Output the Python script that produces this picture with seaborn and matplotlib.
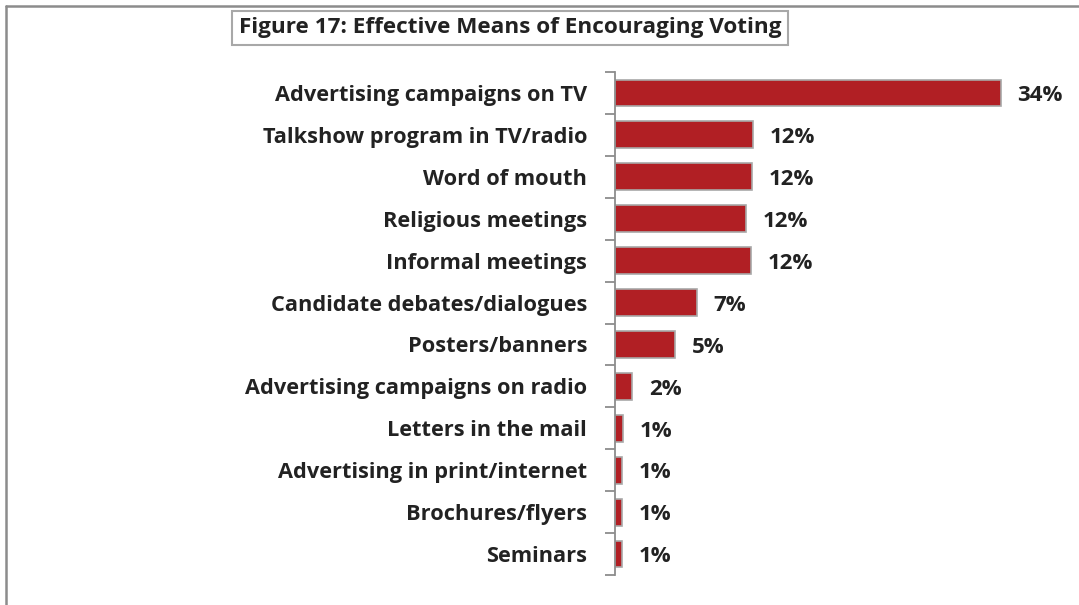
import matplotlib
matplotlib.use("Agg")
import matplotlib.pyplot as plt
from matplotlib.lines import Line2D
import numpy as np
import pandas as pd
import seaborn as sns

categories = [
    "Advertising campaigns on TV",
    "Talkshow program in TV/radio",
    "Word of mouth",
    "Religious meetings",
    "Informal meetings",
    "Candidate debates/dialogues",
    "Posters/banners",
    "Advertising campaigns on radio",
    "Letters in the mail",
    "Advertising in print/internet",
    "Brochures/flyers",
    "Seminars",
]
shares = [34.0, 12.2, 12.1, 11.5, 12.0, 7.2, 5.3, 1.5, 0.7, 0.6, 0.6, 0.6]
title = "Figure 17: Effective Means of Encouraging Voting"

df = pd.DataFrame({"means": categories, "share": shares})

sns.set_theme(style="white")
plt.rcParams["font.family"] = ["Open Sans", "DejaVu Sans"]

W, H = 1079, 605
fig = plt.figure(figsize=(W / 100, H / 100), dpi=100)
ax = fig.add_axes([615 / W, 1 - 575 / H, 425 / W, (575 - 72) / H])

sns.barplot(data=df, x="share", y="means", orient="h", color="#B11F24",
            saturation=1, width=0.64, edgecolor="#A8A8A8", linewidth=1.2, ax=ax)

ax.set_xlim(0, 425 / 11.35)
ax.set_ylim(len(categories) - 0.5, -0.5)
ax.set_xlabel("")
ax.set_ylabel("")
ax.set_xticks([])

for s in ["top", "right", "bottom"]:
    ax.spines[s].set_visible(False)
ax.spines["left"].set_color("#8C8C8C")
ax.spines["left"].set_linewidth(1.3)

ax.set_yticks(np.arange(len(categories)))
ax.set_yticklabels(categories, fontsize=15.7, fontweight="bold", color="#222222")
ax.tick_params(axis="y", which="major", length=0, pad=20)
ax.set_yticks(np.arange(len(categories) + 1) - 0.5, minor=True)
ax.tick_params(axis="y", which="minor", length=7, width=1.3, color="#8C8C8C", left=True)

for i, v in enumerate(shares):
    ax.annotate(f"{v:.0f}%", xy=(v, i), xytext=(12, -2), textcoords="offset points",
                ha="left", va="center", fontsize=16, fontweight="bold", color="#222222")

fig.text(510 / W, 1 - 28 / H, title, ha="center", va="center", fontsize=16.2,
         fontweight="bold", color="#222222",
         bbox=dict(boxstyle="square,pad=0.3", facecolor="white", edgecolor="#A8A8A8", linewidth=1.5))

fig.add_artist(Line2D([6 / W, 1], [1 - 6 / H, 1 - 6 / H], transform=fig.transFigure,
                      color="#8C8C8C", linewidth=1.8))
fig.add_artist(Line2D([6 / W, 6 / W], [0, 1 - 6 / H], transform=fig.transFigure,
                      color="#8C8C8C", linewidth=1.8))

fig.savefig("out.png", dpi=100)
